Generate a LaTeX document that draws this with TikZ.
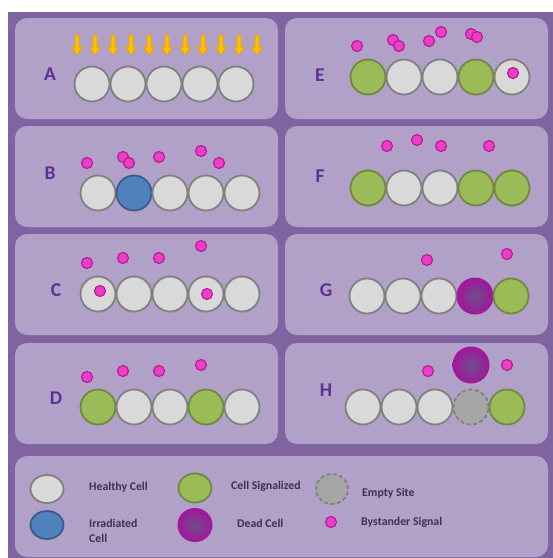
\documentclass[tikz,border=0pt]{standalone}
\usepackage{fontspec}
\setmainfont{Carlito}
\usetikzlibrary{shapes.geometric}
\definecolor{framecol}{HTML}{8064A2}
\definecolor{panelbg}{HTML}{B1A0C7}
\definecolor{hfill}{HTML}{D9D9D9}
\definecolor{hdraw}{HTML}{808080}
\definecolor{gfill}{HTML}{9BBB59}
\definecolor{gdraw}{HTML}{71893F}
\definecolor{bfill}{HTML}{4F81BD}
\definecolor{bdraw}{HTML}{385D8A}
\definecolor{pfill}{HTML}{F03CCC}
\definecolor{pdraw}{HTML}{B0228F}
\definecolor{deadout}{HTML}{A3159B}
\definecolor{deadin}{HTML}{6E4E8C}
\definecolor{efill}{HTML}{A6A6A6}
\definecolor{lblcol}{HTML}{5E2F96}
\definecolor{txtcol}{HTML}{3F3151}
\definecolor{yfill}{HTML}{FFC000}
\definecolor{ydraw}{HTML}{E8A200}
\tikzset{panel/.style={fill=panelbg, rounded corners=12pt},
  cell/.style={circle, minimum size=35pt, inner sep=0pt, line width=1.8pt},
  healthy/.style={cell, fill=hfill, draw=hdraw},
  signaled/.style={cell, fill=gfill, draw=gdraw},
  irradiated/.style={cell, fill=bfill, draw=bdraw},
  deadcell/.style={cell, draw=none, minimum size=37pt, inner color=deadin, outer color=deadout},
  emptysite/.style={cell, fill=efill, draw=hdraw, dash pattern=on 4pt off 2.5pt},
  signal/.style={circle, minimum size=11pt, inner sep=0pt, fill=pfill, draw=pdraw, line width=1.2pt},
  lbl/.style={font=\fontsize{19.5}{20}\selectfont\bfseries, text=lblcol},
  legtxt/.style={font=\fontsize{11.8}{15}\selectfont\bfseries, text=txtcol, anchor=west, align=left, inner sep=0pt},
  ray/.style={fill=yfill, draw=ydraw, line width=0.6pt}}

\begin{document}
\begin{tikzpicture}[x=1pt,y=-1pt]
  \useasboundingbox (0,0) rectangle (553,558);
  % frame and panels
  \fill[framecol] (8,12) rectangle (553,558);
  \foreach \px/\py in {15/18, 15/126, 15/234, 15/343, 285/18, 285/126, 285/234, 285/343}{
    \fill[panel] (\px,\py) rectangle ++(263,101);}
  \fill[panel] (15,456) rectangle (548,557);
  % row labels
  \foreach \l/\x/\y in {A/50/74, B/50/173, C/56/290, D/56/398, E/320/75, F/320/176, G/326/290, H/326/390}
    \node[lbl] (lbl\l) at (\x,\y) {\l};
  % radiation
  \foreach \x in {77,95,...,257}
    \draw[ray] ({\x-2},35) -- ({\x+2},35) -- ({\x+2},47) -- ({\x+5.5},47) -- (\x,55) -- ({\x-5.5},47) -- ({\x-2},47) -- cycle;
  % cells
  \foreach \i/\t in {1/healthy,2/healthy,3/healthy,4/healthy,5/healthy}
    \node[\t] (a\i) at ({56+36*\i},84) {};
  \foreach \i/\t in {1/healthy,2/irradiated,3/healthy,4/healthy,5/healthy}
    \node[\t] (b\i) at ({62+36*\i},193) {};
  \foreach \i/\t in {1/healthy,2/healthy,3/healthy,4/healthy,5/healthy}
    \node[\t] (c\i) at ({62+36*\i},294) {};
  \foreach \i/\t in {1/signaled,2/healthy,3/healthy,4/signaled,5/healthy}
    \node[\t] (d\i) at ({62+36*\i},407) {};
  \foreach \i/\t in {1/signaled,2/healthy,3/healthy,4/signaled,5/healthy}
    \node[\t] (e\i) at ({332+36*\i},77) {};
  \foreach \i/\t in {1/signaled,2/healthy,3/healthy,4/signaled,5/signaled}
    \node[\t] (f\i) at ({332+36*\i},188) {};
  \foreach \i/\t in {1/healthy,2/healthy,3/healthy,4/deadcell,5/signaled}
    \node[\t] (g\i) at ({331+36*\i},296) {};
  \foreach \i/\t in {1/healthy,2/healthy,3/healthy,4/emptysite,5/signaled}
    \node[\t] (h\i) at ({327+36*\i},407) {};
  \node[deadcell] (hdead) at (471,365) {};
  % bystander signals
  \foreach \x/\y [count=\n] in {87/163, 123/157, 129/163, 159/157, 201/151, 219/163,
      87/263, 123/258, 159/258, 201/246, 100/291, 207/294,
      87/377, 123/371, 159/371, 201/365,
      357/46, 393/40, 399/46, 429/41, 441/32, 471/34, 477/37, 513/73,
      387/146, 417/140, 441/146, 489/146,
      427/260, 507/254, 428/371, 507/365}
    \node[signal] (sig\n) at (\x,\y) {};
  % legend
  \node[healthy, ellipse, minimum width=33pt, minimum height=28pt] (keyh) at (47,489) {};
  \node[irradiated, ellipse, minimum width=33pt, minimum height=28pt] (keyi) at (47,525) {};
  \node[signaled, ellipse, minimum width=33pt, minimum height=29pt] (keys) at (195,488) {};
  \node[deadcell, ellipse, minimum width=35pt, minimum height=34pt] (keyd) at (195,525) {};
  \node[emptysite, ellipse, minimum width=32pt, minimum height=30pt] (keye) at (332,489) {};
  \node[signal] (keyb) at (331,522) {};
  \node[legtxt] (txth) at (89,487) {Healthy Cell};
  \node[legtxt] (txti) at (89,530.5) {Irradiated\\Cell};
  \node[legtxt] (txts) at (231,486) {Cell Signalized};
  \node[legtxt] (txtd) at (237,523) {Dead Cell};
  \node[legtxt] (txte) at (362,493) {Empty Site};
  \node[legtxt] (txtb) at (361,522) {Bystander Signal};
\end{tikzpicture}
\end{document}
